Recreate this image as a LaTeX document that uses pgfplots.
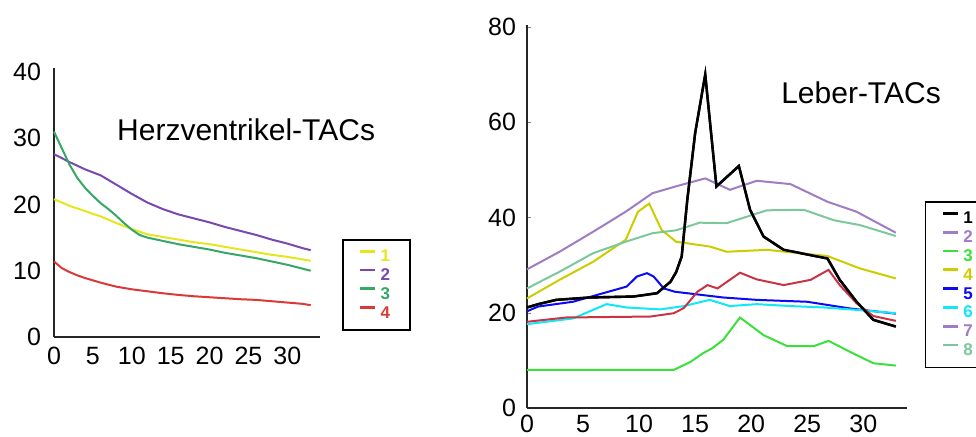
\documentclass[border=0pt]{standalone}
\usepackage{pgfplots}
\pgfplotsset{compat=1.18}
\usepackage{fontspec}
\setmainfont{Liberation Sans}

\definecolor{hyel}{HTML}{E6E61E}
\definecolor{hpur}{HTML}{7A48AE}
\definecolor{hgrn}{HTML}{35A866}
\definecolor{hred}{HTML}{DD3838}

\definecolor{lblk}{HTML}{000000}
\definecolor{lpur}{HTML}{A07CC4}
\definecolor{lgrn}{HTML}{3CE03C}
\definecolor{lyel}{HTML}{CCCC00}
\definecolor{lblu}{HTML}{0A0AF5}
\definecolor{lcya}{HTML}{10E8F8}
\definecolor{lsea}{HTML}{7CC89C}
\definecolor{lred}{HTML}{C83444}

\pgfplotsset{
  tacaxis/.style={
    scale only axis,
    axis lines=left,
    axis line style={-, line width=0.7pt, black!85},
    tick label style={font=\fontsize{12.5}{13}\selectfont},
    /pgf/number format/assume math mode=true,
    clip=false,
    legend cell align=left,
    legend style={draw=black, line width=0.8pt, fill=white,
      font=\bfseries\fontsize{8.5}{9}\selectfont,
      nodes={text height=6pt, text depth=1pt, inner ysep=1.2pt},
      inner xsep=8pt, inner ysep=3.8pt, row sep=0pt,
      /tikz/every even column/.append style={column sep=2pt}},
    legend image code/.code={\draw[#1, line width=1.4pt] (0pt,2.8pt) -- (7.5pt,2.8pt);},
  },
}

\begin{document}
\begin{tikzpicture}
\useasboundingbox (0,0) rectangle (488pt,218pt);
\clip (0,0) rectangle (488pt,218pt);

% Herzventrikel
\begin{axis}[tacaxis,
  at={(27pt,49.5pt)}, anchor=origin,
  width=133pt, height=134.5pt,
  xmin=0, xmax=34.2, ymin=0, ymax=40.6,
  xtick={0,5,...,30}, ytick={0,10,...,40},
  major tick length=0pt,
  xticklabel style={yshift=-1.5pt},
  yticklabel style={xshift=-3pt},
  legend style={at={(rel axis cs:1.083,0.364)}, anchor=north west},
]
\addplot[hyel, line width=1pt] coordinates {(0,20.8) (2,19.8) (4,19.0) (6,18.2) (8,17.2) (10,16.3) (12,15.5) (14,15.1) (16,14.7) (18,14.3) (20,14.0) (22,13.6) (24,13.2) (26,12.8) (28,12.4) (30,12.1) (32,11.7) (33,11.5)};
\addlegendentry{\textcolor{hyel}{1}}
\addplot[hpur, line width=1pt] coordinates {(0,27.6) (2,26.4) (4,25.3) (6,24.4) (8,23.0) (10,21.6) (12,20.3) (14,19.3) (16,18.5) (18,17.9) (20,17.3) (22,16.6) (24,16.0) (26,15.4) (28,14.7) (30,14.1) (32,13.4) (33,13.1)};
\addlegendentry{\textcolor{hpur}{2}}
\addplot[hgrn, line width=1pt] coordinates {(0,31.0) (1,28.5) (2,26.0) (3,24.0) (4,22.5) (5,21.3) (6,20.2) (7,19.3) (8,18.3) (9,17.2) (10,16.2) (11,15.4) (12,15.0) (14,14.5) (16,14.0) (18,13.6) (20,13.2) (22,12.7) (24,12.3) (26,11.9) (28,11.4) (30,10.9) (32,10.3) (33,10.0)};
\addlegendentry{\textcolor{hgrn}{3}}
\addplot[hred, line width=1pt] coordinates {(0,11.4) (1,10.4) (2,9.8) (3,9.3) (4,8.9) (6,8.2) (8,7.6) (10,7.2) (12,6.9) (14,6.6) (16,6.35) (18,6.15) (20,6.0) (22,5.85) (24,5.7) (26,5.6) (28,5.4) (30,5.2) (32,5.0) (33,4.8)};
\addlegendentry{\textcolor{hred}{4}}
\node[font=\fontsize{15}{16}\selectfont] at (axis cs:24.7,31.3) {Herzventrikel-TACs};
\end{axis}

% Leber
\begin{axis}[tacaxis,
  at={(263.5pt,14pt)}, anchor=origin,
  width=190pt, height=191.5pt,
  xmin=0, xmax=33.9, ymin=0, ymax=80.4,
  xtick={0,5,...,30}, ytick={0,20,...,80},
  tick align=inside, major tick length=2pt,
  xtick style={draw=none},
  xticklabel style={yshift=0pt},
  yticklabel style={xshift=-2pt},
  legend style={at={(rel axis cs:1.047,0.540)}, anchor=north west},
]
\addplot[lblk, line width=1.2pt] coordinates {(0,21.1) (1,21.8) (2.6,22.7) (5.6,23.2) (9.5,23.4) (11.6,24.1) (12.8,26.5) (13.3,28.5) (13.8,31.8) (14.3,43.7) (15.0,57.7) (15.9,70.0) (16.9,46.5) (18.9,50.8) (19.9,41.6) (21.1,36.0) (22.9,33.2) (26.8,31.4) (27.9,26.9) (29.4,22.3) (30.9,18.5) (32.9,17.1)};
\addlegendentry{\textcolor{lblk}{1}}
\addplot[lpur, line width=1pt] coordinates {(0,29.1) (2.9,32.8) (5.9,37.0) (8.8,41.2) (11.2,45.1) (13.7,46.8) (15.9,48.2) (18.1,45.8) (20.5,47.7) (23.5,47.0) (26.8,43.3) (29.4,41.2) (32.9,36.8)};
\addlegendentry{\textcolor{lpur}{2}}
\addplot[lgrn, line width=1pt] coordinates {(0,8.0) (13.1,8.0) (14.6,9.7) (15.7,11.5) (16.5,12.5) (17.5,14.3) (19.0,19.0) (21.1,15.3) (23.2,13.0) (25.6,13.0) (26.9,14.1) (28.8,11.8) (30.9,9.4) (32.9,8.9)};
\addlegendentry{\textcolor{lgrn}{3}}
\addplot[lyel, line width=1pt] coordinates {(0,23.0) (2.9,26.9) (5.9,30.7) (8.8,35.3) (9.9,41.2) (10.9,42.9) (12.0,37.4) (13.3,34.9) (16.3,33.9) (17.8,32.8) (21.4,33.2) (26.8,31.9) (29.7,29.3) (32.9,27.2)};
\addlegendentry{\textcolor{lyel}{4}}
\addplot[lblu, line width=1pt] coordinates {(0,20.3) (1,21.3) (4.1,22.3) (8.9,25.5) (9.8,27.6) (10.7,28.3) (11.3,27.6) (12.2,25.1) (13.2,24.4) (17.5,23.2) (20.5,22.7) (25.0,22.3) (28.8,20.9) (32.9,19.8)};
\addlegendentry{\textcolor{lblu}{5}}
\addplot[lcya, line width=1pt] coordinates {(0,17.6) (4.1,18.8) (7.1,21.8) (8.9,21.1) (11.9,20.7) (14.0,21.4) (16.3,22.7) (18.1,21.4) (20.5,21.8) (23.5,21.4) (26.5,21.1) (29.4,20.6) (32.9,19.9)};
\addlegendentry{\textcolor{lcya}{6}}
\addlegendimage{lpur}
\addlegendentry{\textcolor{lpur}{7}}
\addplot[lsea, line width=1pt] coordinates {(0,25.1) (2.9,28.6) (5.9,32.5) (8.8,34.9) (11.2,36.7) (13.3,37.3) (15.4,38.9) (17.8,38.8) (21.4,41.5) (24.7,41.6) (27.4,39.4) (29.7,38.4) (32.9,36.1)};
\addlegendentry{\textcolor{lsea}{8}}
\addplot[lred, line width=1pt, forget plot] coordinates {(0,18.1) (3.5,19.0) (11.0,19.2) (13.1,19.9) (14.0,21.0) (15.2,24.4) (16.1,25.8) (17.0,25.1) (19.0,28.4) (20.5,27.0) (22.9,25.8) (25.3,26.9) (26.9,29.0) (27.9,25.8) (29.4,22.0) (30.9,19.3) (32.9,18.3)};
\addplot[lblk, line width=1.2pt, forget plot] coordinates {(0,21.1) (1,21.8) (2.6,22.7) (5.6,23.2) (9.5,23.4) (11.6,24.1) (12.8,26.5) (13.3,28.5) (13.8,31.8) (14.3,43.7) (15.0,57.7) (15.9,70.0) (16.9,46.5) (18.9,50.8) (19.9,41.6) (21.1,36.0) (22.9,33.2) (26.8,31.4) (27.9,26.9) (29.4,22.3) (30.9,18.5) (32.9,17.1)};
\node[font=\fontsize{15}{16}\selectfont] at (axis cs:29.8,66.2) {Leber-TACs};
\end{axis}
\end{tikzpicture}
\end{document}
